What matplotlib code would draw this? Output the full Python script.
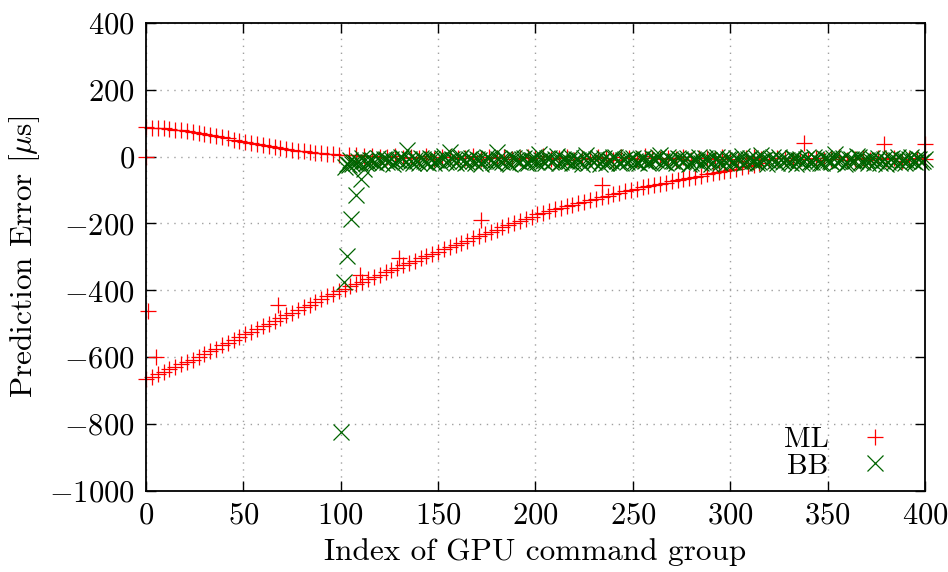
import matplotlib
matplotlib.use("Agg")
import matplotlib.pyplot as plt
import numpy as np

plt.rcParams['font.family'] = 'serif'
plt.rcParams['font.serif'] = ['cmr10', 'DejaVu Serif']
plt.rcParams['mathtext.fontset'] = 'cm'
plt.rcParams['axes.formatter.use_mathtext'] = True
plt.rcParams['axes.unicode_minus'] = True

# ML: upper branch (index 0..99, step 3)
ml_up_x = np.arange(0, 100, 3)
ml_up_y = [87, 86, 85, 84, 82, 80, 78, 75, 72, 69, 66, 63, 60, 57, 54, 50, 46,
           43, 40, 37, 34, 31, 28, 25, 22, 20, 17, 15, 13, 11, 9, 8, 7, 6]

# ML: lower branch (index 0..315, step 3)
ml_low_x = np.arange(0, 316, 3)
ml_low_y = [-665, -658, -651, -643, -636, -629, -621, -614, -607,
            -599, -591, -582, -574, -565, -557, -549, -540, -532,
            -524, -516, -508, -500, -491, -483, -475, -467, -459, -451, -443, -435, -427, -418, -410, -402,
            -395, -388, -381, -374, -367, -360, -353, -346, -339, -332, -325, -318, -311, -304, -297, -291, -285,
            -278, -272, -265, -258, -252, -245, -239, -232, -225, -219, -212, -206, -199, -193, -186, -180,
            -173, -168, -163, -158, -153, -148, -144, -139, -135, -130, -126, -121, -117, -113, -108, -104, -100,
            -96, -92, -89, -85, -81, -78, -74, -71, -67, -64, -60, -57, -53, -50, -47, -43, -40, -36, -32, -28, -24, -20]

# ML: near-zero part (index 104..400, step 4)
ml_flat_x = np.arange(104, 401, 4)
ml_flat_y = [5, 4, 3, 2, 0, -2, 1, -4, -1, -3, 2, -6, -2, 0, -5,
             -3, 1, -7, -2, -4, 0, -8, -3, -1, -5, 2, -6, -4, -2, -9,
             -3, -6, 0, -4, -10, -2, -5, -7, 1, -3, -8, -4, -6, -2, -11,
             -5, -3, -8, -1, -6, -12, -4, -2, -7, -9, -3, -5, -10, -6, -8,
             -4, -11, -6, -2, -9, -7, -3, -10, -5, -8, -4, -12, -6, -3, -7]

# ML: scattered points
ml_out_x = [0, 1, 5, 68, 110, 130, 172, 234, 338, 379, 400]
ml_out_y = [0, -462, -600, -445, -353, -302, -191, -84, 40, 36, 36]

# BB: jump around index 100
bb_jump_x = [100, 101.5, 103, 105.5, 108, 110.5, 112]
bb_jump_y = [-825, -375, -297, -188, -116, -66, -38]

# BB: band, even indices 102..400
bb_x = np.arange(102, 401, 2)
bb_y = [-30, -25, -22, -18, -20, -14, -16, -10, -19, -12, -8, -15, -6, -17, -11,
        -4, 18, -13, -9, -20, -7, -15, -3, -18, -11, -5, -16, 12, -9, -14,
        -2, -19, -8, -12, -6, -21, -10, -4, -15, 12, -13, -7, -18, -1, -11,
        -16, -5, -20, -9, -14, 8, -12, -3, -17, -8, -19, -6, -13, -2, -15,
        -10, -21, 5, -7, -16, -4, -12, -18, -9, -1, -14, -20, -6, -11, -3,
        -17, -8, -13, -19, -5, -10, 6, -15, -2, -12, -20, -7, -14, -4, -18,
        -9, -1, -16, -11, -21, -6, -13, -3, -19, -8, -15, -10, 2, -17, -5,
        -12, -20, 4, -7, -14, -2, -18, -9, -11, -16, -4, -21, -6, -13, -1,
        -15, -8, -19, -3, -10, -17, 8, -12, -5, -20, -7, -14, -2, -16, -9,
        -11, -18, -4, -13, -21, -6, -15, -1, -10, -19, -8, -14, -3, -17, -7]

# BB: band, odd indices 103..399
bb_x2 = np.arange(103, 400, 2)
bb_y2 = [-22, -9, -17, -13, -5, -20, -11, -15, -3, -18, -7, -14, -21, -10, -2,
         -16, -8, -19, -12, -4, -13, -20, -6, -10, -17, 1, -14, -8, -19, -5,
         -12, -16, -3, -20, -9, -14, 0, -11, -18, -6, -15, -9, -21, -4, -13,
         -7, -18, -11, -2, -16, -10, -20, -5, -13, 3, -17, -9, -12, -19, -6,
         -14, -3, -18, -11, -8, -21, -5, -15, -12, -2, -19, -9, -16, -6, -13,
         -20, -4, -11, -17, -8, -1, -14, -19, -7, -12, -3, -16, -10, -21, -6,
         -13, -18, -5, -9, -15, -2, -20, -11, -7, -16, -4, -12, -19, -8, -14,
         -3, -17, -10, -21, -6, -13, 0, -15, -9, -18, -5, -11, -20, -7, -16,
         -2, -12, -19, -8, -14, -4, -17, -10, -21, -6, -13, 1, -16, -9, -18,
         -5, -12, -20, -7, -15, -3, -11, -18, -9, -14, -2, -16, -8, -12]

ml_x = np.concatenate([ml_up_x, ml_low_x, ml_flat_x, ml_out_x])
ml_y = np.concatenate([ml_up_y, ml_low_y, ml_flat_y, ml_out_y])
bb_all_x = np.concatenate([bb_jump_x, bb_x, bb_x2])
bb_all_y = np.concatenate([bb_jump_y, bb_y, bb_y2])

fig = plt.figure(figsize=(9.48, 5.72), dpi=100)
ax = fig.add_axes([0.154, 0.1416, 0.8217, 0.8187])

ax.plot(ml_x, ml_y, linestyle='none', marker='+', color='#ff0000',
        markersize=11, markeredgewidth=0.9, label='ML', clip_on=False)
ax.plot(bb_all_x, bb_all_y, linestyle='none', marker='x', color='#006400',
        markersize=11, markeredgewidth=0.9, label='BB', clip_on=False)

ax.set_xlim(0, 400)
ax.set_ylim(-1000, 400)
ax.set_xticks(np.arange(0, 401, 50))
ax.set_yticks(np.arange(-1000, 401, 200))
ax.grid(True, color='#a0a0a0', linestyle=(0, (1, 4)), linewidth=1.0)
ax.tick_params(direction='in', length=7, width=1, top=True, right=True,
               labelsize=22, pad=8)
for s in ax.spines.values():
    s.set_linewidth(1.3)

ax.set_xlabel('Index of GPU command group', fontsize=22.5, labelpad=6)
ax.set_ylabel(r'Prediction Error [$\mu$s]', fontsize=22.5, labelpad=5)

ax.legend(loc='lower right', bbox_to_anchor=(0.981, 0.012), frameon=False,
          markerfirst=False, fontsize=21, handlelength=2.0, handletextpad=0.6,
          labelspacing=0.0, borderaxespad=0.1, borderpad=0.1)

fig.savefig('out.png', dpi=100)
